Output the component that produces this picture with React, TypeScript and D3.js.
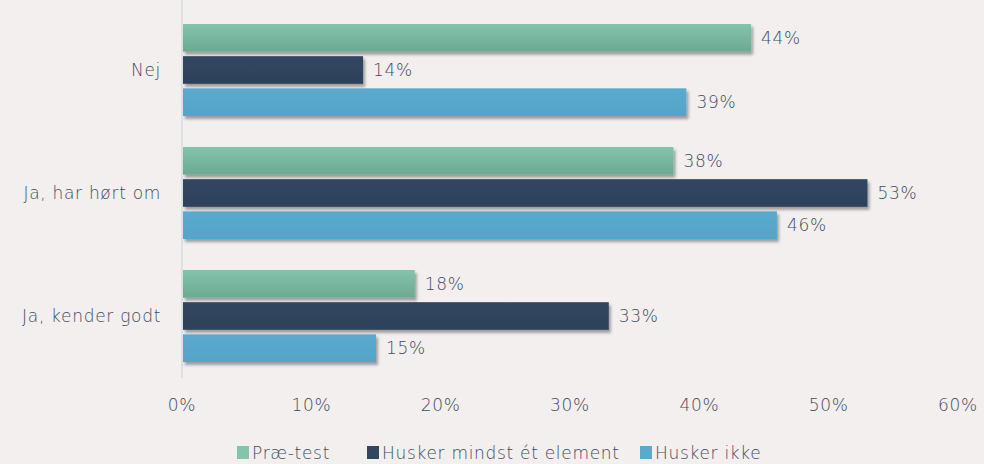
import React from "react";
import * as d3 from "d3";

const categories = ["Nej", "Ja, har hørt om", "Ja, kender godt"];
const seriesNames = ["Præ-test", "Husker mindst ét element", "Husker ikke"];
const praeTest = [44, 38, 18];
const huskerMindst = [14, 53, 33];
const huskerIkke = [39, 46, 15];
const ticks = [0, 10, 20, 30, 40, 50, 60];

const W = 984, H = 464;
const colors = ["#84c3ac", "#31465f", "#5aaacd"];
const colorsDark = ["#6ba993", "#2e425b", "#56a5c8"];
const textColor = "#3f4b60";
const font = "'DejaVu Sans', sans-serif";
const ls = 0.7;

export default function App() {
  const x = d3.scaleLinear().domain([0, 60]).range([182, 958]);
  const y = d3.scaleBand().domain(categories).range([8, 377]).paddingInner(0).paddingOuter(0);
  const series = [praeTest, huskerMindst, huskerIkke];
  const inner = d3.scaleBand().domain(["0", "1", "2"]).range([16, 108]).paddingInner(0.14);
  const legendX = [237, 367, 640];
  return (
    <svg width={W} height={H} style={{ position: "absolute", left: 0, top: 0, background: "#f2efee" }}>
      <defs>
        {colors.map((c, i) => (
          <linearGradient key={i} id={`g${i}`} x1="0" y1="0" x2="0" y2="1">
            <stop offset="0" stopColor={c} />
            <stop offset="1" stopColor={colorsDark[i]} />
          </linearGradient>
        ))}
        <filter id="sh" x="-5%" y="-20%" width="110%" height="160%">
          <feGaussianBlur in="SourceAlpha" stdDeviation="1.5" />
          <feOffset dx="1.5" dy="2.5" result="b" />
          <feComponentTransfer><feFuncA type="linear" slope="0.35" /></feComponentTransfer>
          <feMerge><feMergeNode /><feMergeNode in="SourceGraphic" /></feMerge>
        </filter>
      </defs>
      <rect width={W} height={H} fill="#f2efee" />
      <line x1={182} x2={182} y1={0} y2={378} stroke="#d5dde6" strokeWidth={1.5} />
      {categories.map((cat, ci) => (
        <g key={cat}>
          <text x={161} y={(y(cat) as number) + y.bandwidth() / 2 + 6} textAnchor="end" fontFamily={font} fontWeight={200} fontSize={17} letterSpacing={ls} fill={textColor}>{cat}</text>
          {series.map((s, si) => {
            const by = (y(cat) as number) + (inner(String(si)) as number);
            const bh = inner.bandwidth();
            return (
              <g key={si}>
                <rect x={x(0) + 1} y={by} width={x(s[ci]) - x(0) - 1} height={bh} fill={`url(#g${si})`} filter="url(#sh)" />
                <text x={x(s[ci]) + 10} y={by + bh / 2 + 6} fontFamily={font} fontWeight={200} fontSize={17} letterSpacing={ls} fill={textColor}>{s[ci]}%</text>
              </g>
            );
          })}
        </g>
      ))}
      {ticks.map(t => (
        <text key={t} x={x(t)} y={411} textAnchor="middle" fontFamily={font} fontWeight={200} fontSize={17} letterSpacing={ls} fill={textColor}>{t}%</text>
      ))}
      {legendX.map((lx, i) => (
        <g key={i}>
          <rect x={lx} y={446} width={12} height={13} fill={colors[i]} />
          <text x={lx + 15} y={459} fontFamily={font} fontWeight={200} fontSize={17} letterSpacing={ls} fill={textColor}>{seriesNames[i]}</text>
        </g>
      ))}
    </svg>
  );
}
